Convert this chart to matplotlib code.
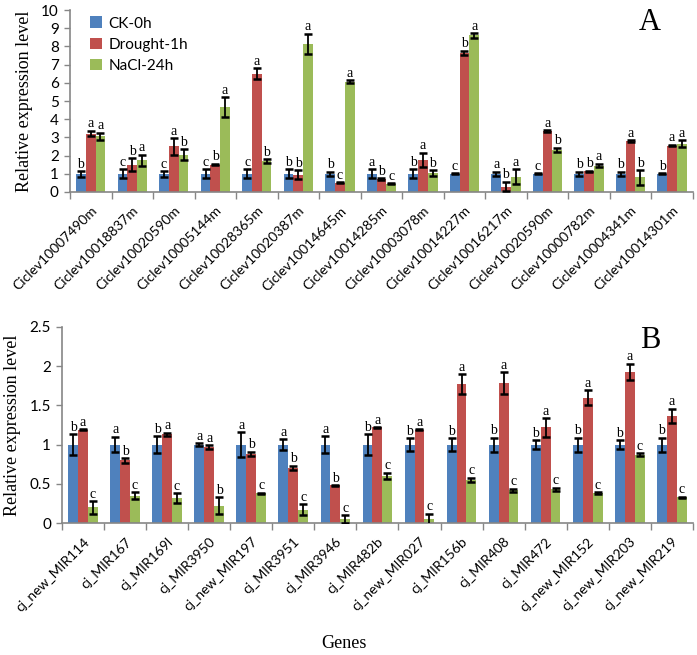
import numpy as np
import matplotlib
matplotlib.use('Agg')
import matplotlib.pyplot as plt

# ---- panel A data ----
genes_a = ['Ciclev10007490m', 'Ciclev10018837m', 'Ciclev10020590m', 'Ciclev10005144m',
           'Ciclev10028365m', 'Ciclev10020387m', 'Ciclev10014645m', 'Ciclev10014285m',
           'Ciclev10003078m', 'Ciclev10014227m', 'Ciclev10016217m', 'Ciclev10020590m',
           'Ciclev10000782m', 'Ciclev10004341m', 'Ciclev10014301m']
ck_a = [1.0, 1.0, 1.0, 1.0, 1.0, 1.0, 1.0, 1.0, 1.0, 1.0, 1.0, 1.0, 1.0, 1.0, 1.0]
ck_a_err = [0.15, 0.25, 0.15, 0.25, 0.25, 0.25, 0.12, 0.25, 0.25, 0.02, 0.1, 0.03, 0.1, 0.1, 0.02]
dr_a = [3.2, 1.5, 2.5, 1.5, 6.5, 0.95, 0.5, 0.7, 1.75, 7.65, 0.3, 3.35, 1.15, 2.8, 2.55]
dr_a_err = [0.15, 0.35, 0.45, 0.04, 0.3, 0.25, 0.03, 0.05, 0.4, 0.12, 0.25, 0.03, 0.03, 0.03, 0.05]
na_a = [3.05, 1.75, 2.05, 4.65, 1.7, 8.15, 6.05, 0.45, 1.05, 8.6, 0.85, 2.3, 1.45, 0.8, 2.65]
na_a_err = [0.2, 0.3, 0.3, 0.55, 0.1, 0.55, 0.08, 0.03, 0.15, 0.12, 0.4, 0.12, 0.1, 0.4, 0.2]
lt_ck_a = ['b', 'c', 'c', 'c', 'c', 'b', 'b', 'a', 'b', 'c', 'a', 'c', 'b', 'b', 'b']
lt_dr_a = ['a', 'b', 'a', 'b', 'a', 'b', 'c', 'b', 'a', 'b', 'b', 'a', 'b', 'a', 'a']
lt_na_a = ['a', 'a', 'b', 'a', 'b', 'a', 'a', 'c', 'b', 'a', 'a', 'b', 'a', 'b', 'a']

# ---- panel B data ----
genes_b = ['cj_new_MIR114', 'cj_MIR167', 'cj_MIR169l', 'cj_MIR3950', 'cj_new_MIR197',
           'cj_MIR3951', 'cj_MIR3946', 'cj_MIR482b', 'cj_new_MIR027', 'cj_MIR156b',
           'cj_MIR408', 'cj_MIR472', 'cj_new_MIR152', 'cj_new_MIR203', 'cj_new_MIR219']
ck_b = [1.0, 1.0, 1.0, 1.0, 1.0, 1.0, 1.0, 1.0, 1.0, 1.0, 1.0, 1.0, 1.0, 1.0, 1.0]
ck_b_err = [0.13, 0.1, 0.11, 0.02, 0.16, 0.07, 0.11, 0.13, 0.08, 0.08, 0.09, 0.06, 0.09, 0.06, 0.09]
dr_b = [1.19, 0.8, 1.13, 0.97, 0.88, 0.7, 0.48, 1.22, 1.19, 1.77, 1.78, 1.22, 1.6, 1.93, 1.37]
dr_b_err = [0.005, 0.03, 0.02, 0.02, 0.03, 0.03, 0.005, 0.005, 0.005, 0.13, 0.14, 0.12, 0.09, 0.1, 0.09]
na_b = [0.2, 0.35, 0.32, 0.22, 0.38, 0.17, 0.05, 0.6, 0.05, 0.55, 0.42, 0.43, 0.38, 0.87, 0.33]
na_b_err = [0.08, 0.04, 0.06, 0.11, 0.005, 0.07, 0.05, 0.04, 0.07, 0.03, 0.02, 0.02, 0.01, 0.02, 0.005]
lt_ck_b = ['b', 'a', 'b', 'a', 'a', 'a', 'a', 'b', 'b', 'b', 'b', 'b', 'b', 'b', 'b']
lt_dr_b = ['a', 'b', 'a', 'a', 'b', 'b', 'b', 'a', 'a', 'a', 'a', 'a', 'a', 'a', 'a']
lt_na_b = ['c', 'c', 'c', 'b', 'c', 'c', 'c', 'c', 'c', 'c', 'c', 'c', 'c', 'c', 'c']

series_names = ['CK-0h', 'Drought-1h', 'NaCl-24h']
colors = ['#4F81BD', '#C0504D', '#9BBB59']
SERIF = 'Liberation Serif'
SANS = 'Lato'
AXIS_GRAY = '#868686'


def draw_panel(ax, genes, vals, errs, letters, ymax, step, pad, tick_fmt):
    x = np.arange(len(genes))
    w = 0.235
    for i, (v, e, lt) in enumerate(zip(vals, errs, letters)):
        pos = x + (i - 1) * w
        ax.bar(pos, v, w, color=colors[i], label=series_names[i], zorder=2,
               yerr=e, capsize=3.2,
               error_kw=dict(ecolor='black', elinewidth=1.3, capthick=1.8, zorder=3))
        for p, vv, ee, ll in zip(pos, v, e, lt):
            ax.text(p, vv + ee + pad, ll, ha='center', va='bottom',
                    fontsize=10, family=SERIF)
    ax.set_xlim(-0.5, len(genes) - 0.5)
    ax.set_ylim(0, ymax)
    ticks = np.arange(0, ymax + step / 2, step)
    ax.set_yticks(ticks)
    ax.set_yticklabels([tick_fmt(t) for t in ticks], fontsize=11, family=SANS)
    # category labels at the centres, tick marks at the boundaries
    ax.set_xticks(x)
    ax.set_xticklabels(genes, rotation=45, ha='right', rotation_mode='anchor',
                       fontsize=10, family=SANS)
    ax.tick_params(axis='x', length=0, pad=9)
    ax.set_xticks(np.arange(-0.5, len(genes)), minor=True)
    ax.tick_params(axis='x', which='minor', length=5, color=AXIS_GRAY, width=1)
    ax.tick_params(axis='y', length=4, color=AXIS_GRAY, width=1, pad=4)
    for s in ['top', 'right']:
        ax.spines[s].set_visible(False)
    for s in ['left', 'bottom']:
        ax.spines[s].set_color(AXIS_GRAY)
        ax.spines[s].set_linewidth(1.2)
    ax.set_ylabel('Relative expression level', fontsize=13, family=SERIF, labelpad=6)


fig = plt.figure(figsize=(6.97, 6.55), dpi=100)
ax_a = fig.add_axes([0.1004, 0.7069, 0.8936, 0.2778])
ax_b = fig.add_axes([0.0890, 0.2015, 0.9050, 0.2993])

draw_panel(ax_a, genes_a, [ck_a, dr_a, na_a], [ck_a_err, dr_a_err, na_a_err],
           [lt_ck_a, lt_dr_a, lt_na_a], 10, 1, 0.03, lambda t: '%d' % t)
draw_panel(ax_b, genes_b, [ck_b, dr_b, na_b], [ck_b_err, dr_b_err, na_b_err],
           [lt_ck_b, lt_dr_b, lt_na_b], 2.5, 0.5, 0.005, lambda t: '%g' % t)

ax_a.legend(loc='upper left', bbox_to_anchor=(0.01, 1.04), frameon=False,
            handlelength=0.8, handleheight=0.8, handletextpad=0.4, labelspacing=0.45,
            prop={'family': SANS, 'size': 11})

fig.text(650 / 697, 1 - 22 / 655, 'A', fontsize=22, family=SERIF, ha='center', va='center')
fig.text(650 / 697, 1 - 340 / 655, 'B', fontsize=22, family=SERIF, ha='center', va='center')
fig.text(344 / 697, 1 - 643 / 655, 'Genes', fontsize=13, family=SERIF, ha='center', va='center')

fig.savefig('out.png', dpi=100)
